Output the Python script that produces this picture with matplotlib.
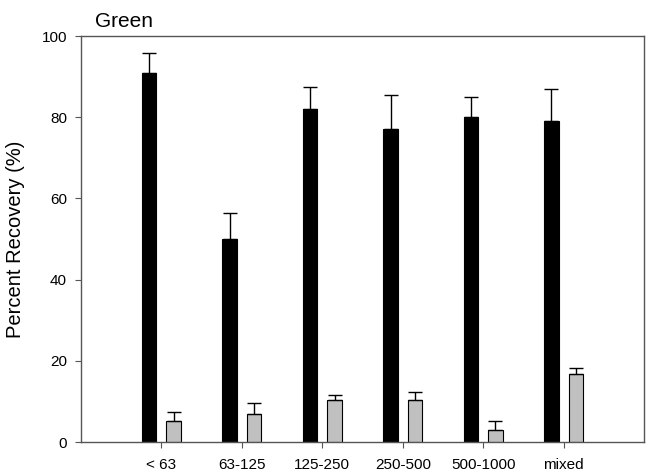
import matplotlib.pyplot as plt
import numpy as np

# Size fractions and recovery values
categories = ['< 63', '63-125', '125-250', '250-500', '500-1000', 'mixed']
black_vals = [91, 50, 82, 77, 80, 79]
black_err = [4.9, 6.5, 5.5, 8.5, 5.0, 8.0]
gray_vals = [5.2, 6.9, 10.3, 10.3, 2.9, 16.7]
gray_err = [2.3, 2.6, 1.2, 2.1, 2.2, 1.5]

plt.rcParams['font.family'] = ['Liberation Sans', 'DejaVu Sans']

fig = plt.figure(figsize=(6.46, 4.74), dpi=100)
ax = fig.add_axes([0.1254, 0.0675, 0.8716, 0.8565])

x = np.arange(len(categories))
w = 0.18
off = 0.152
ax.bar(x - off, black_vals, w, color='black', edgecolor='black', linewidth=0.8,
       yerr=[np.zeros(len(x)), black_err], error_kw=dict(ecolor='black', elinewidth=1, capsize=4.7, capthick=1))
ax.bar(x + off, gray_vals, w, color='#c0c0c0', edgecolor='black', linewidth=0.8,
       yerr=[np.zeros(len(x)), gray_err], error_kw=dict(ecolor='black', elinewidth=1, capsize=4.7, capthick=1))

ax.set_xlim(-1, 6)
ax.set_ylim(0, 100)
ax.set_yticks([0, 20, 40, 60, 80, 100])
ax.set_xticks(x)
ax.set_xticklabels(categories)
ax.tick_params(axis='both', labelsize=11, length=4.5, color='#555555', direction='out')
ax.tick_params(axis='x', pad=7)
ax.tick_params(axis='y', pad=5.5)
for s in ax.spines.values():
    s.set_color('#555555')
    s.set_linewidth(1)

ax.set_ylabel('Percent Recovery (%)', fontsize=14.5, labelpad=12)
fig.text(0.147, 0.955, 'Green', fontsize=15, ha='left', va='center')

plt.savefig('out.png', dpi=100)
